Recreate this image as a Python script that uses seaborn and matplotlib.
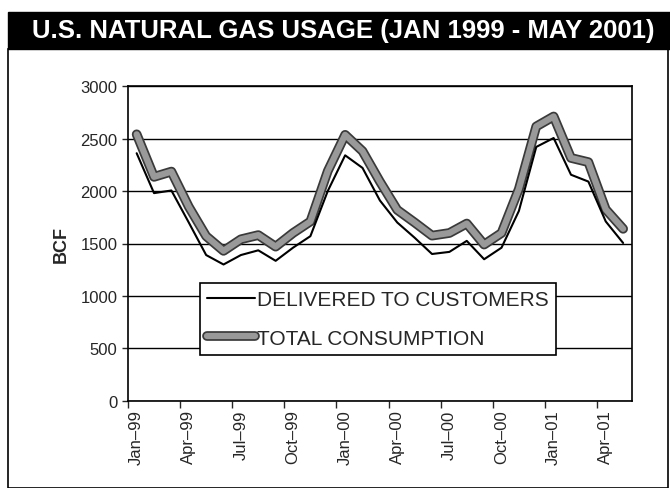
import matplotlib
matplotlib.use('Agg')
import matplotlib.pyplot as plt
import matplotlib.patheffects as pe
from matplotlib.patches import Rectangle
import seaborn as sns
import pandas as pd

months = ['Jan', 'Feb', 'Mar', 'Apr', 'May', 'Jun', 'Jul', 'Aug', 'Sep', 'Oct', 'Nov', 'Dec']
years = ['99', '00', '01']
labels = [m + '–' + y for y in years for m in months][:29]

delivered = [2360, 1980, 2005, 1700, 1390, 1300, 1390, 1435, 1335, 1460,
             1570, 2000, 2340, 2220, 1910, 1700, 1555, 1400, 1420, 1525,
             1350, 1460, 1810, 2420, 2505, 2155, 2090, 1710, 1505]
total = [2540, 2135, 2185, 1850, 1570, 1430, 1540, 1580, 1470, 1600,
         1710, 2190, 2535, 2380, 2090, 1820, 1700, 1575, 1600, 1690,
         1490, 1600, 2020, 2615, 2710, 2315, 2275, 1825, 1640]

df = pd.DataFrame({'idx': range(29), 'label': labels,
                   'DELIVERED TO CUSTOMERS': delivered, 'TOTAL CONSUMPTION': total})

sns.set_style('white')
plt.rcParams['font.family'] = ['Liberation Sans', 'DejaVu Sans']

fig = plt.figure(figsize=(6.70, 4.89), dpi=100)
ax = fig.add_axes([0.191, 0.178, 0.752, 0.644])

# title bar and outer frame
fig.patches.append(Rectangle((8 / 670, 0), 660 / 670, 1 - 50 / 489, transform=fig.transFigure,
                             fill=False, edgecolor='black', lw=1.2))
fig.patches.append(Rectangle((8 / 670, 1 - 50 / 489), 662 / 670, 37 / 489, transform=fig.transFigure,
                             facecolor='black', edgecolor='black'))
fig.text(0.513, 1 - 31 / 489, 'U.S. NATURAL GAS USAGE (JAN 1999 - MAY 2001)', color='white',
         fontsize=18.5, fontweight='bold', ha='center', va='center')

sns.lineplot(data=df, x='idx', y='TOTAL CONSUMPTION', ax=ax, color='#999999', lw=4.5,
             label='TOTAL CONSUMPTION',
             path_effects=[pe.Stroke(linewidth=7, foreground='#3a3a3a'), pe.Normal()])
sns.lineplot(data=df, x='idx', y='DELIVERED TO CUSTOMERS', ax=ax, color='black', lw=1.5,
             label='DELIVERED TO CUSTOMERS')

ax.set_ylim(0, 3000)
ax.set_xlim(-0.5, 28.5)
ax.set_yticks(range(0, 3001, 500))
ax.tick_params(axis='y', labelsize=12, length=4, direction='out', left=True, width=1)
ax.yaxis.grid(True, color='black', lw=1)
ax.set_axisbelow(True)

ax.set_xticks([i - 0.5 for i in range(0, 29, 3)])
ax.set_xticklabels([])
ax.set_xticks(list(range(0, 29, 3)), minor=True)
ax.set_xticklabels(labels[::3], minor=True, rotation=90, fontsize=12,
                   family=['Liberation Sans Narrow', 'Liberation Sans'])
ax.tick_params(axis='x', which='major', length=5, direction='out', bottom=True, width=1)
ax.tick_params(axis='x', which='minor', length=0, pad=6)

for s in ax.spines.values():
    s.set_color('black')
    s.set_linewidth(1.2)

ax.set_xlabel('')
ax.set_ylabel('BCF', fontsize=13, fontweight='bold', labelpad=8)

h, l = ax.get_legend_handles_labels()
leg = ax.legend(h[::-1], l[::-1], loc='lower left', bbox_to_anchor=(0.143, 0.146),
                fontsize=15, frameon=True, fancybox=False, edgecolor='black',
                framealpha=1, handlelength=2.3, handletextpad=0.1, labelspacing=0.95,
                borderpad=0.35, borderaxespad=0)
leg.get_frame().set_linewidth(1.2)

fig.savefig('out.png', dpi=100)
